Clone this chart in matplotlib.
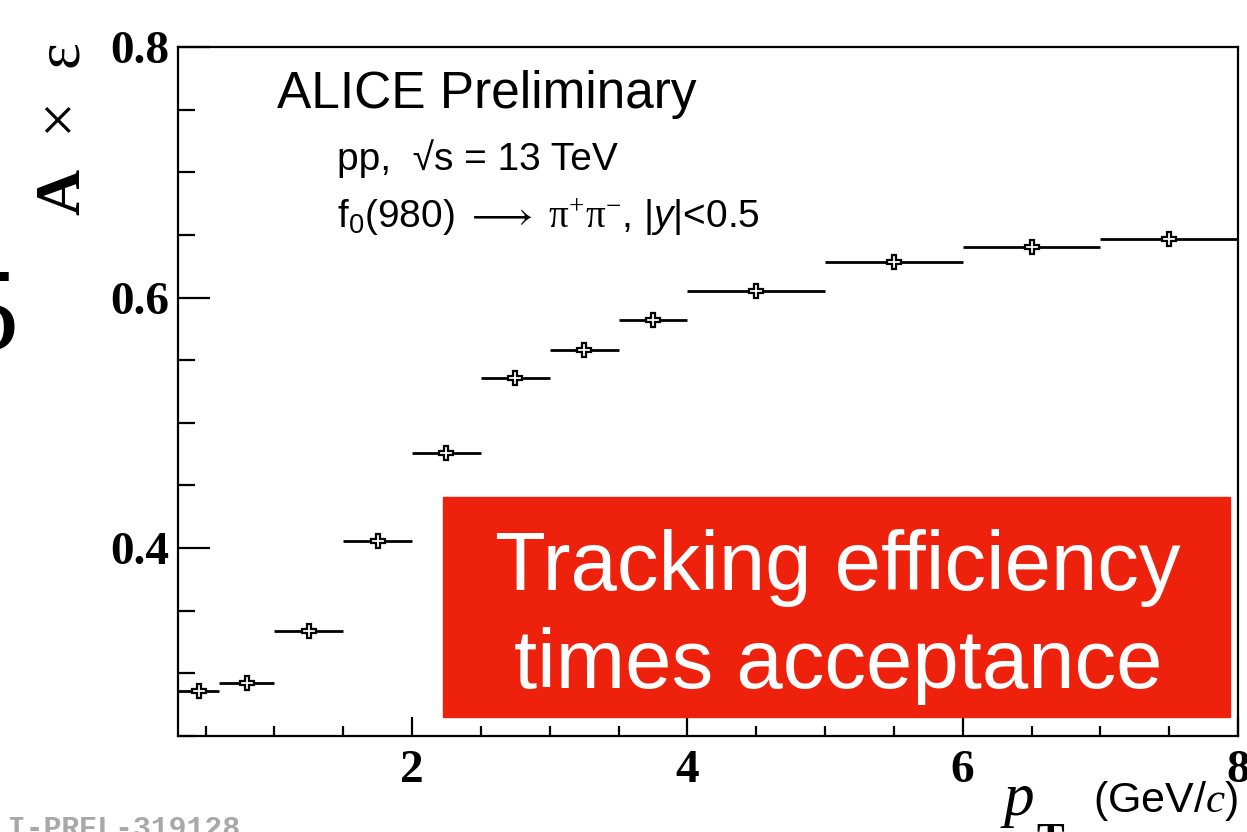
import numpy as np
from matplotlib import pyplot as plt
from matplotlib.patches import Rectangle
from matplotlib.ticker import MultipleLocator, FormatStrFormatter

# pT bins and A x eff values
bin_lo = [0.3, 0.6, 1.0, 1.5, 2.0, 2.5, 3.0, 3.5, 4.0, 5.0, 6.0, 7.0]
bin_hi = [0.6, 1.0, 1.5, 2.0, 2.5, 3.0, 3.5, 4.0, 5.0, 6.0, 7.0, 8.0]
eff = [0.286, 0.292, 0.334, 0.406, 0.476, 0.536, 0.558, 0.582, 0.605, 0.628, 0.640, 0.647]

plt.rcParams['mathtext.fontset'] = 'custom'
plt.rcParams['mathtext.rm'] = 'Liberation Serif'
plt.rcParams['mathtext.it'] = 'Liberation Serif:italic'
plt.rcParams['mathtext.bf'] = 'Liberation Serif:bold'
plt.rcParams['mathtext.sf'] = 'Liberation Sans:italic'

W, H = 1247, 832
fig = plt.figure(figsize=(W/100, H/100), dpi=100)
ax = fig.add_axes([178/W, 96/H, 1060/W, 689/H])

lo = np.array(bin_lo)
hi = np.array(bin_hi)
x = (lo + hi)/2
xerr = (hi - lo)/2
ax.errorbar(x, eff, xerr=xerr, fmt='P', ms=10, mfc='white', mec='black',
            mew=1.6, ecolor='black', elinewidth=2, capsize=0)

ax.set_xlim(0.3, 8)
ax.set_ylim(0.25, 0.8)
for s in ax.spines.values():
    s.set_linewidth(1.6)

ax.xaxis.set_major_locator(MultipleLocator(2))
ax.xaxis.set_minor_locator(MultipleLocator(0.5))
ax.yaxis.set_major_locator(MultipleLocator(0.2))
ax.yaxis.set_minor_locator(MultipleLocator(0.05))
ax.xaxis.set_major_formatter(FormatStrFormatter('%d'))
ax.yaxis.set_major_formatter(FormatStrFormatter('%.1f'))
ax.tick_params(axis='both', which='both', direction='in', width=1.6, colors='black')
ax.tick_params(axis='x', which='major', length=14, pad=10)
ax.tick_params(axis='x', which='minor', length=7)
ax.tick_params(axis='y', which='major', length=23, pad=6)
ax.tick_params(axis='y', which='minor', length=12)
for lab in ax.get_xticklabels() + ax.get_yticklabels():
    lab.set_fontfamily('Liberation Serif')
    lab.set_fontweight('bold')
    lab.set_fontsize(34)

# axis titles
fig.text(62/W, 1 - 129/H, r'$\mathbf{A}\ \,\times\ \,\mathrm{ε}$', rotation=90,
         ha='center', va='center', size=46)
fig.text(1000/W, 17/H, r'$p$', ha='left', va='baseline', size=44)
fig.text(1036/W, -20/H, 'T', family='Liberation Serif', weight='bold', size=30,
         ha='left', va='baseline')
fig.text(1238/W, 20/H, '(GeV/$c$)', ha='right', va='baseline',
         family='Liberation Sans', size=31)

# header text
fig.text(277/W, 1 - 108/H, 'ALICE Preliminary', family='Liberation Sans', size=37,
         va='baseline')
fig.text(337/W, 1 - 170/H, 'pp,  √s = 13 TeV', family='Liberation Sans', size=28,
         va='baseline')
fig.text(337/W, 1 - 228/H,
         r'f$_{\mathregular{0}}$(980) $\longrightarrow$ $\mathrm{\pi^{+}\pi^{-}}$, |$\mathsf{y}$|<0.5',
         family='Liberation Sans', size=28, va='baseline')

# red callout box
fig.patches.append(Rectangle((443/W, 1 - 717/H), 787/W, 220/H,
                             transform=fig.transFigure, color='#EE220C', zorder=5))
fig.text(838/W, 1 - 590/H, 'Tracking efficiency', family='Liberation Sans', size=60,
         color='white', ha='center', va='baseline', zorder=6)
fig.text(838/W, 1 - 688/H, 'times acceptance', family='Liberation Sans', size=60,
         color='white', ha='center', va='baseline', zorder=6)

# slide leftovers
fig.text(-28/W, -5/H, 'ALI-PREL-319128', family='Liberation Mono', weight='bold',
         size=21.5, color='#a8a8a8', va='baseline')
fig.text(19/W, 1 - 350/H, '5', family='Liberation Serif', size=85, ha='right',
         va='baseline')

fig.savefig('out.png', dpi=100)
